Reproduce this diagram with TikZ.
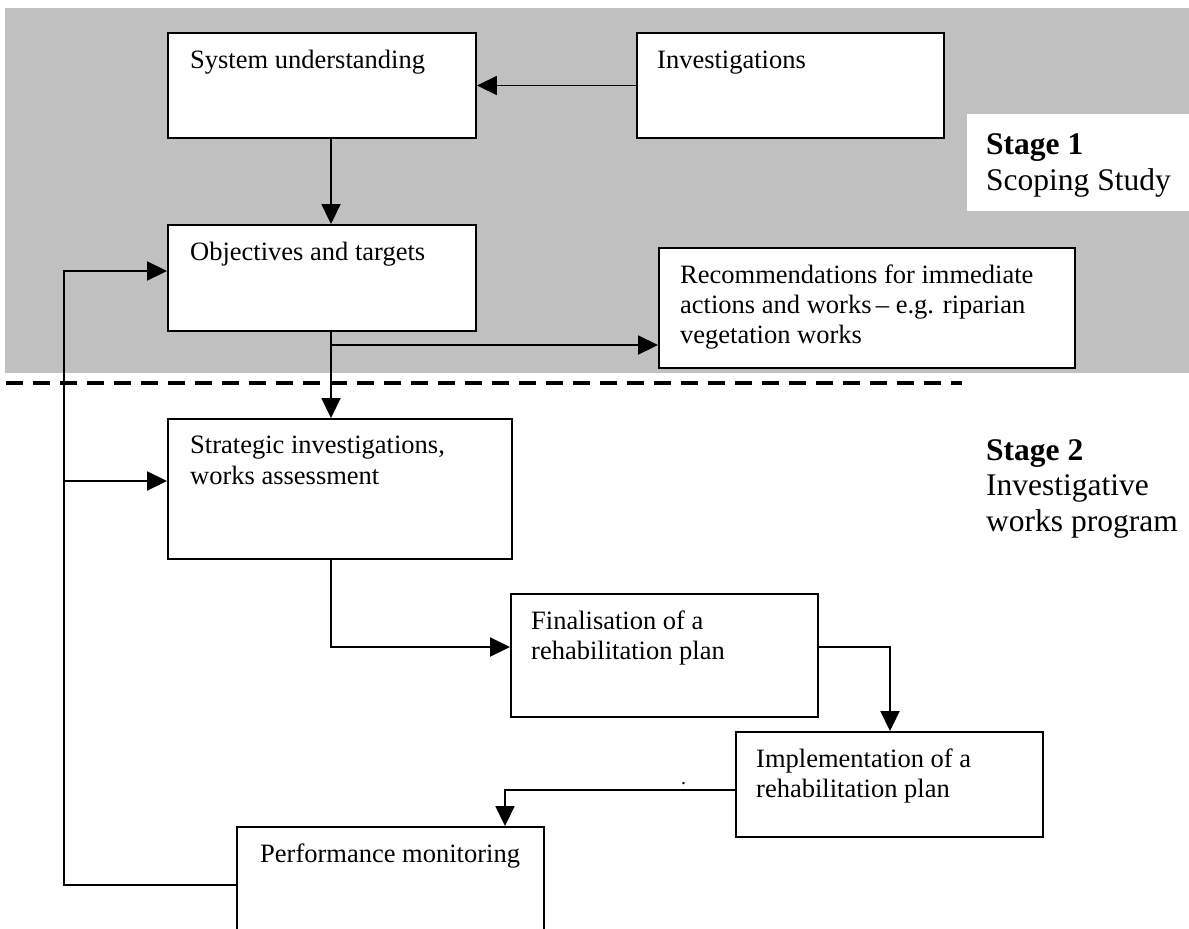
\documentclass[tikz,border=0pt]{standalone}
\usepackage{fontspec}
\setmainfont{Liberation Serif}
\usetikzlibrary{arrows.meta,calc}
\definecolor{bandgray}{RGB}{192,192,192}
\tikzset{
  box/.style={draw=black, line width=1.9pt, fill=white, inner sep=0pt, rectangle},
  txt/.style={anchor=base west, inner sep=0pt, font=\fontsize{26.5}{30}\selectfont},
  stagetxt/.style={anchor=base west, inner sep=0pt, font=\fontsize{31.5}{36}\selectfont},
  arr/.style={line width=1.9pt, -{Triangle[length=20pt,width=19pt]}},
}
\begin{document}
\begin{tikzpicture}[x=1pt,y=-1pt]
\useasboundingbox (0,0) rectangle (1189,929);
\clip (0,0) rectangle (1189,929);
% background band
\fill[bandgray] (5,8) rectangle (1189,373);
\fill[white] (967,114) rectangle (1189,211);
% dashed separator
\draw[line width=4.2pt, dash pattern=on 17pt off 10pt] (6,383) -- (962,383);

% boxes
\node[box, minimum width=308pt, minimum height=105pt] (su) at (322,85.5) {};
\node[box, minimum width=307pt, minimum height=105pt] (inv) at (790.5,85.5) {};
\node[box, minimum width=308pt, minimum height=106pt] (obj) at (322,278) {};
\node[box, minimum width=416pt, minimum height=120pt] (rec) at (867,308) {};
\node[box, minimum width=344pt, minimum height=140pt] (str) at (340,489) {};
\node[box, minimum width=307pt, minimum height=123pt] (fin) at (664.5,655.5) {};
\node[box, minimum width=307pt, minimum height=105pt] (imp) at (889.5,784.5) {};
\node[box, minimum width=307pt, minimum height=133pt] (perf) at (390.5,893.5) {};

% texts
\node[txt] (tsu) at (190,68) {System understanding};
\node[txt] (tinv) at (657,68) {Investigations};
\node[txt] (tobj) at (190,260) {Objectives and targets};
\node[txt] (trec1) at (680,283) {Recommendations for immediate};
\node[txt] (trec2) at (680,313) {actions and works\,– e.g. riparian};
\node[txt] (trec3) at (680,343) {vegetation works};
\node[txt] (tstr1) at (190,453) {Strategic investigations,};
\node[txt] (tstr2) at (190,484) {works assessment};
\node[txt] (tfin1) at (531,629) {Finalisation of a};
\node[txt] (tfin2) at (531,659) {rehabilitation plan};
\node[txt] (timp1) at (756,767) {Implementation of a};
\node[txt] (timp2) at (756,797) {rehabilitation plan};
\node[txt] (tperf) at (260,862) {Performance monitoring};
\node[txt, font=\fontsize{20}{22}\selectfont] (dot) at (681,784) {.};

\node[stagetxt] (s1a) at (986,154) {\textbf{Stage 1}};
\node[stagetxt] (s1b) at (986,190) {Scoping Study};
\node[stagetxt] (s2a) at (986,460) {\textbf{Stage 2}};
\node[stagetxt] (s2b) at (986,495) {Investigative};
\node[stagetxt] (s2c) at (986,531) {works program};

% helper coordinates
\coordinate (cx) at (331,0);
\coordinate (fbx) at (64,0);
\coordinate (objy) at (0,271);
\coordinate (stry) at (0,481);
\coordinate (pfy) at (0,885);
\coordinate (bry) at (0,345);
\coordinate (finy) at (0,647);
\coordinate (impx) at (890,0);
\coordinate (impy) at (0,790);
\coordinate (perfx) at (505,0);

% connectors
\draw[arr] (inv.west) -- (su.east);
\draw[arr] (su.south -| cx) -- (obj.north -| cx);
\draw[arr] (obj.south -| cx) -- (str.north -| cx);
\draw[arr] (cx |- bry) -- (rec.west |- bry);
\draw[arr] (perf.west |- pfy) -| (fbx |- objy) -- (obj.west |- objy);
\draw[arr] (fbx |- stry) -- (str.west |- stry);
\draw[arr] (str.south -| cx) |- (fin.west |- finy);
\draw[arr] (fin.east |- finy) -| (imp.north -| impx);
\draw[arr] (imp.west |- impy) -| (perf.north -| perfx);
\end{tikzpicture}
\end{document}
